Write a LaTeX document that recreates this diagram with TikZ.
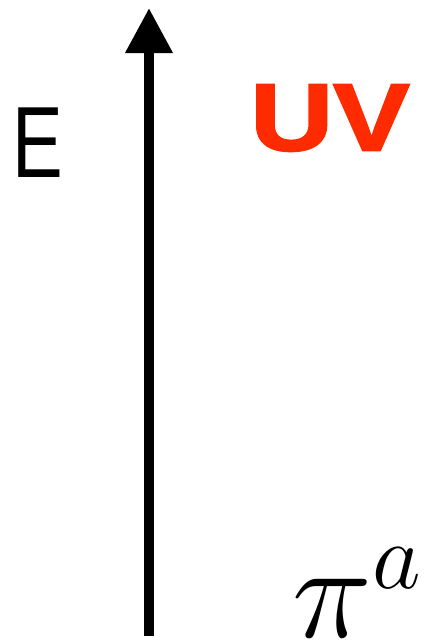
\documentclass[tikz,border=0pt]{standalone}
\usepackage{fix-cm}
\usepackage{fontspec}
\usetikzlibrary{arrows.meta, positioning}
\newfontfamily\labelfont{Liberation Sans}
\newfontfamily\uvfont[BoldFeatures={FakeBold=2}]{Liberation Sans}
\definecolor{uvred}{HTML}{FF2B00}

\begin{document}
\begin{tikzpicture}[
    x=0.025cm, y=-0.025cm,
    axisarr/.style={-{Triangle[length=1.125cm, width=1.125cm]}, line width=0.25cm, black},
    elabel/.style={font=\labelfont\fontsize{72}{72}\selectfont, inner sep=0pt, xscale=0.75},
    uvlabel/.style={font=\uvfont\bfseries\fontsize{68}{68}\selectfont, text=uvred, inner sep=0pt, xscale=1.2},
    pilabel/.style={font=\fontsize{96}{96}\selectfont, inner sep=0pt},
]

% fixed frame of the picture
\useasboundingbox (0,0) rectangle (436,640);

% energy axis
\coordinate (low) at (149,636);
\coordinate (high) at (149,8);
\draw[axisarr] (low) -- (high);

% labels
\node[elabel] (energy) at (38,143) {E};
\node[uvlabel] (uv) at (330,118) {UV};
\node[pilabel, anchor=base west] (pion) at (292,637) {$\pi^a$};

\end{tikzpicture}
\end{document}
